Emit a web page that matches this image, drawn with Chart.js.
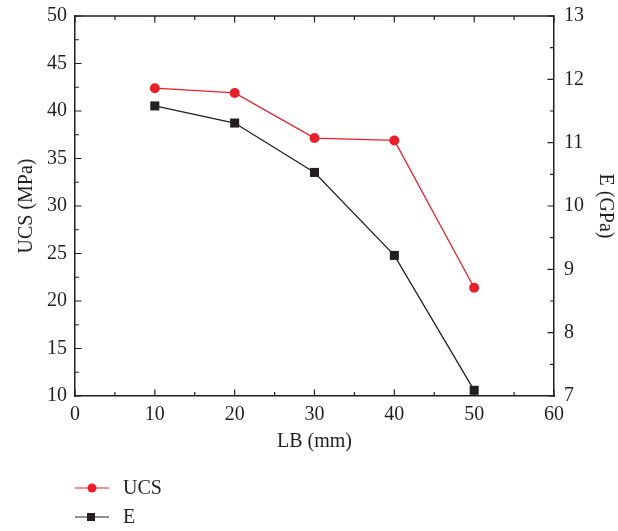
<!DOCTYPE html>
<html lang="en">
<head>
    <meta charset="UTF-8">
    <title>UCS and E vs LB</title>
    <script src="https://cdn.jsdelivr.net/npm/chart.js"></script>
    <style>
        body { margin: 0; padding: 0; background: #fff; }
        #wrap { width: 618px; height: 531px; }
    </style>
</head>
<body>
<div id="wrap"><canvas id="chart"></canvas></div>
<script>
    // values
    const lb = [10, 20, 30, 40, 50];
    const ucs = [42.4, 41.9, 37.15, 36.9, 21.4];
    const modulus = [11.58, 11.31, 10.53, 9.22, 7.09];

    const RED = '#e8202a';
    const BLACK = '#231f20';
    const FONT = 'Liberation Serif';
    const SIZE = 20;

    // inward ticks, top frame line and the line+marker legend below the plot
    const frame = {
        id: 'frame',
        afterDraw(chart) {
            const ctx = chart.ctx;
            const a = chart.chartArea;
            const x = chart.scales.x, y = chart.scales.y, y1 = chart.scales.y1;
            ctx.save();
            ctx.strokeStyle = BLACK;
            ctx.lineWidth = 1.5;
            ctx.beginPath();
            ctx.moveTo(a.left, a.top);
            ctx.lineTo(a.right, a.top);
            ctx.stroke();
            ctx.lineWidth = 1.2;
            ctx.beginPath();
            for (let v = 0; v <= 60; v += 5) {
                const px = x.getPixelForValue(v);
                const len = v % 10 === 0 ? 6.5 : 4;
                ctx.moveTo(px, a.bottom); ctx.lineTo(px, a.bottom - len);
                ctx.moveTo(px, a.top); ctx.lineTo(px, a.top + len);
            }
            for (let v = 10; v <= 50; v += 2.5) {
                const py = y.getPixelForValue(v);
                const len = v % 5 === 0 ? 6.5 : 4;
                ctx.moveTo(a.left, py); ctx.lineTo(a.left + len, py);
            }
            for (let v = 7; v <= 13; v += 0.5) {
                const py = y1.getPixelForValue(v);
                const len = v % 1 === 0 ? 6.5 : 4;
                ctx.moveTo(a.right, py); ctx.lineTo(a.right - len, py);
            }
            ctx.stroke();

            // legend
            chart.data.datasets.forEach((ds, i) => {
                const ly = 488 + i * 29;
                ctx.strokeStyle = ds.borderColor;
                ctx.lineWidth = 1.2;
                ctx.beginPath();
                ctx.moveTo(75, ly); ctx.lineTo(109, ly);
                ctx.stroke();
                ctx.fillStyle = ds.backgroundColor;
                if (ds.pointStyle === 'circle') {
                    ctx.beginPath();
                    ctx.arc(92, ly, 4.5, 0, Math.PI * 2);
                    ctx.fill();
                } else {
                    ctx.fillRect(87, ly - 4, 8, 8);
                }
                ctx.fillStyle = BLACK;
                ctx.font = SIZE + 'px "' + FONT + '"';
                ctx.textBaseline = 'middle';
                ctx.fillText(ds.label, 123, ly + 1);
            });
            ctx.restore();
        }
    };

    const tickFont = { family: FONT, size: SIZE };

    function fitY(width) {
        return function (s) {
            s.width = width;
            s.paddingTop = 0;
            s.paddingBottom = 0;
        };
    }

    new Chart(document.getElementById('chart'), {
        type: 'line',
        data: {
            datasets: [{
                label: 'UCS',
                data: lb.map((v, i) => ({ x: v, y: ucs[i] })),
                yAxisID: 'y',
                borderColor: RED,
                backgroundColor: RED,
                borderWidth: 1.3,
                pointStyle: 'circle',
                pointRadius: 5,
                pointBorderWidth: 0
            }, {
                label: 'E',
                data: lb.map((v, i) => ({ x: v, y: modulus[i] })),
                yAxisID: 'y1',
                borderColor: BLACK,
                backgroundColor: BLACK,
                borderWidth: 1.3,
                pointStyle: 'rect',
                pointRadius: 6.4,
                pointBorderWidth: 0
            }]
        },
        options: {
            responsive: true,
            maintainAspectRatio: false,
            animation: false,
            layout: { padding: { top: 16, bottom: 75 } },
            plugins: {
                legend: { display: false },
                tooltip: { enabled: false }
            },
            scales: {
                x: {
                    type: 'linear',
                    min: 0, max: 60,
                    afterFit(s) { s.height = 60; s.paddingLeft = 0; s.paddingRight = 0; },
                    grid: { display: false, drawTicks: false },
                    border: { display: true, color: BLACK, width: 1.5 },
                    ticks: { stepSize: 10, padding: 7, color: BLACK, font: tickFont },
                    title: { display: true, text: 'LB (mm)', color: BLACK, font: tickFont, padding: { top: 0, bottom: 2 } }
                },
                y: {
                    position: 'left',
                    min: 10, max: 50,
                    afterFit: fitY(75),
                    grid: { display: false, drawTicks: false },
                    border: { display: true, color: BLACK, width: 1.5 },
                    ticks: { stepSize: 5, padding: 8, color: BLACK, font: tickFont },
                    title: { display: true, text: 'UCS (MPa)', color: BLACK, font: tickFont, padding: { top: 15, bottom: 0 } }
                },
                y1: {
                    position: 'right',
                    min: 7, max: 13,
                    afterFit: fitY(64),
                    grid: { display: false, drawTicks: false },
                    border: { display: true, color: BLACK, width: 1.5 },
                    ticks: { stepSize: 1, padding: 10, color: BLACK, font: tickFont },
                    title: { display: true, text: 'E (GPa)', color: BLACK, font: tickFont, padding: { top: 1, bottom: 0 } }
                }
            }
        },
        plugins: [frame]
    });
</script>
</body>
</html>
